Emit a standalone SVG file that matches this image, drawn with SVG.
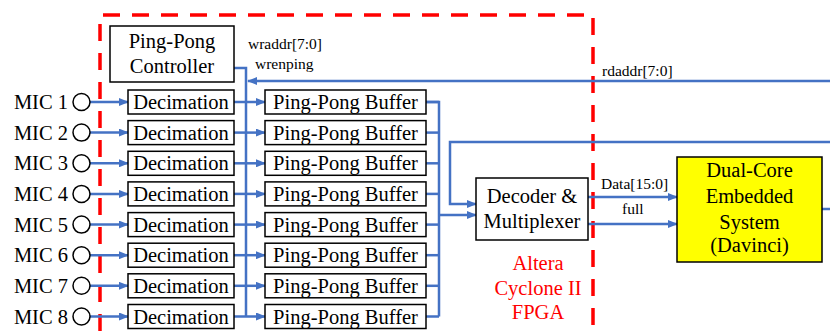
<svg xmlns="http://www.w3.org/2000/svg" width="830" height="331" viewBox="0 0 830 331">
<style>
.t{font-family:"Liberation Serif","Times New Roman",serif;fill:#000}
.b{font-size:20.5px}
.s{font-size:15.5px}
.box{fill:#fff;stroke:#000;stroke-width:1.5}
.w{fill:none;stroke:#4472C4;stroke-width:2.5}
.a{marker-end:url(#ar)}
.red{fill:none;stroke:#FF0000;stroke-width:3.5;stroke-dasharray:17 12}
.rt{font-family:"Liberation Serif","Times New Roman",serif;font-size:20.5px;fill:#FF0000}
</style>
<defs>
<marker id="ar" markerUnits="userSpaceOnUse" markerWidth="10" markerHeight="8" refX="9" refY="4" orient="auto">
<path d="M0,0 L10,4 L0,8 z" fill="#4472C4"/>
</marker>
</defs>
<rect width="830" height="331" fill="#fff"/>
<path class="red" d="M100,331 L100,15 L593,15 L593,331"/>
<g id="connectors">
<path class="w" d="M234,68 H246 V316.5"/>
<path class="w a" d="M830,81 H248"/>
<path class="w" d="M426,102 H439 V316.5"/>
<path class="w a" d="M439,215 H476"/>
<path class="w a" d="M830,142 H450 V204 H476"/>
<path class="w a" d="M588,197 H677"/>
<path class="w a" d="M588,224 H677"/>
<path class="w" d="M822,209 H830"/>
<path class="w a" d="M90,102 H128"/><path class="w a" d="M234,102 H265"/><path class="w" d="M426,102 H439"/>
<path class="w a" d="M90,132.6 H128"/><path class="w a" d="M234,132.6 H265"/><path class="w" d="M426,132.6 H439"/>
<path class="w a" d="M90,163.3 H128"/><path class="w a" d="M234,163.3 H265"/><path class="w" d="M426,163.3 H439"/>
<path class="w a" d="M90,193.9 H128"/><path class="w a" d="M234,193.9 H265"/><path class="w" d="M426,193.9 H439"/>
<path class="w a" d="M90,224.6 H128"/><path class="w a" d="M234,224.6 H265"/><path class="w" d="M426,224.6 H439"/>
<path class="w a" d="M90,255.2 H128"/><path class="w a" d="M234,255.2 H265"/><path class="w" d="M426,255.2 H439"/>
<path class="w a" d="M90,285.8 H128"/><path class="w a" d="M234,285.8 H265"/><path class="w" d="M426,285.8 H439"/>
<path class="w a" d="M90,316.5 H128"/><path class="w a" d="M234,316.5 H265"/><path class="w" d="M426,316.5 H439"/>
<text class="t s" x="248" y="49">wraddr[7:0]</text>
<text class="t s" x="255" y="69">wrenping</text>
<text class="t s" x="602" y="76">rdaddr[7:0]</text>
<text class="t s" x="601" y="189">Data[15:0]</text>
<text class="t s" x="622" y="214">full</text>
</g>
<g id="controller">
<rect class="box" x="110" y="26" width="124" height="56"/>
<text class="t b" x="172" y="48" text-anchor="middle">Ping-Pong</text>
<text class="t b" x="172" y="73" text-anchor="middle">Controller</text>
</g>
<g id="mics">
<g id="mic1"><text class="t b" x="68" y="109" text-anchor="end">MIC 1</text><circle cx="81.5" cy="102" r="8.5" fill="#fff" stroke="#000" stroke-width="1.5"/></g>
<g id="mic2"><text class="t b" x="68" y="139.6" text-anchor="end">MIC 2</text><circle cx="81.5" cy="132.6" r="8.5" fill="#fff" stroke="#000" stroke-width="1.5"/></g>
<g id="mic3"><text class="t b" x="68" y="170.3" text-anchor="end">MIC 3</text><circle cx="81.5" cy="163.3" r="8.5" fill="#fff" stroke="#000" stroke-width="1.5"/></g>
<g id="mic4"><text class="t b" x="68" y="200.9" text-anchor="end">MIC 4</text><circle cx="81.5" cy="193.9" r="8.5" fill="#fff" stroke="#000" stroke-width="1.5"/></g>
<g id="mic5"><text class="t b" x="68" y="231.6" text-anchor="end">MIC 5</text><circle cx="81.5" cy="224.6" r="8.5" fill="#fff" stroke="#000" stroke-width="1.5"/></g>
<g id="mic6"><text class="t b" x="68" y="262.2" text-anchor="end">MIC 6</text><circle cx="81.5" cy="255.2" r="8.5" fill="#fff" stroke="#000" stroke-width="1.5"/></g>
<g id="mic7"><text class="t b" x="68" y="292.8" text-anchor="end">MIC 7</text><circle cx="81.5" cy="285.8" r="8.5" fill="#fff" stroke="#000" stroke-width="1.5"/></g>
<g id="mic8"><text class="t b" x="68" y="323.5" text-anchor="end">MIC 8</text><circle cx="81.5" cy="316.5" r="8.5" fill="#fff" stroke="#000" stroke-width="1.5"/></g>
</g>
<g id="decimation">
<g id="dec1"><rect class="box" x="128" y="90" width="106" height="24"/><text class="t b" x="181" y="109" text-anchor="middle">Decimation</text></g>
<g id="dec2"><rect class="box" x="128" y="120.6" width="106" height="24"/><text class="t b" x="181" y="139.6" text-anchor="middle">Decimation</text></g>
<g id="dec3"><rect class="box" x="128" y="151.3" width="106" height="24"/><text class="t b" x="181" y="170.3" text-anchor="middle">Decimation</text></g>
<g id="dec4"><rect class="box" x="128" y="181.9" width="106" height="24"/><text class="t b" x="181" y="200.9" text-anchor="middle">Decimation</text></g>
<g id="dec5"><rect class="box" x="128" y="212.6" width="106" height="24"/><text class="t b" x="181" y="231.6" text-anchor="middle">Decimation</text></g>
<g id="dec6"><rect class="box" x="128" y="243.2" width="106" height="24"/><text class="t b" x="181" y="262.2" text-anchor="middle">Decimation</text></g>
<g id="dec7"><rect class="box" x="128" y="273.8" width="106" height="24"/><text class="t b" x="181" y="292.8" text-anchor="middle">Decimation</text></g>
<g id="dec8"><rect class="box" x="128" y="304.5" width="106" height="24"/><text class="t b" x="181" y="323.5" text-anchor="middle">Decimation</text></g>
</g>
<g id="buffers">
<g id="buf1"><rect class="box" x="265" y="90" width="161" height="24"/><text class="t b" x="345.5" y="109" text-anchor="middle">Ping-Pong Buffer</text></g>
<g id="buf2"><rect class="box" x="265" y="120.6" width="161" height="24"/><text class="t b" x="345.5" y="139.6" text-anchor="middle">Ping-Pong Buffer</text></g>
<g id="buf3"><rect class="box" x="265" y="151.3" width="161" height="24"/><text class="t b" x="345.5" y="170.3" text-anchor="middle">Ping-Pong Buffer</text></g>
<g id="buf4"><rect class="box" x="265" y="181.9" width="161" height="24"/><text class="t b" x="345.5" y="200.9" text-anchor="middle">Ping-Pong Buffer</text></g>
<g id="buf5"><rect class="box" x="265" y="212.6" width="161" height="24"/><text class="t b" x="345.5" y="231.6" text-anchor="middle">Ping-Pong Buffer</text></g>
<g id="buf6"><rect class="box" x="265" y="243.2" width="161" height="24"/><text class="t b" x="345.5" y="262.2" text-anchor="middle">Ping-Pong Buffer</text></g>
<g id="buf7"><rect class="box" x="265" y="273.8" width="161" height="24"/><text class="t b" x="345.5" y="292.8" text-anchor="middle">Ping-Pong Buffer</text></g>
<g id="buf8"><rect class="box" x="265" y="304.5" width="161" height="24"/><text class="t b" x="345.5" y="323.5" text-anchor="middle">Ping-Pong Buffer</text></g>
</g>
<g id="decoder">
<rect class="box" x="476" y="178" width="112" height="62"/>
<text class="t b" x="532" y="203" text-anchor="middle">Decoder &amp;</text>
<text class="t b" x="532" y="228" text-anchor="middle">Multiplexer</text>
</g>
<g id="davinci">
<rect x="677" y="157" width="145" height="105" fill="#FFFF00" stroke="#000" stroke-width="1.5"/>
<text class="t b" x="749.5" y="177" text-anchor="middle">Dual-Core</text>
<text class="t b" x="749.5" y="203" text-anchor="middle">Embedded</text>
<text class="t b" x="749.5" y="229" text-anchor="middle">System</text>
<text class="t b" x="749.5" y="252" text-anchor="middle">(Davinci)</text>
</g>
<g id="fpga-label">
<text class="rt" x="538" y="270" text-anchor="middle">Altera</text>
<text class="rt" x="538" y="295" text-anchor="middle">Cyclone II</text>
<text class="rt" x="538" y="319" text-anchor="middle">FPGA</text>
</g>
</svg>
